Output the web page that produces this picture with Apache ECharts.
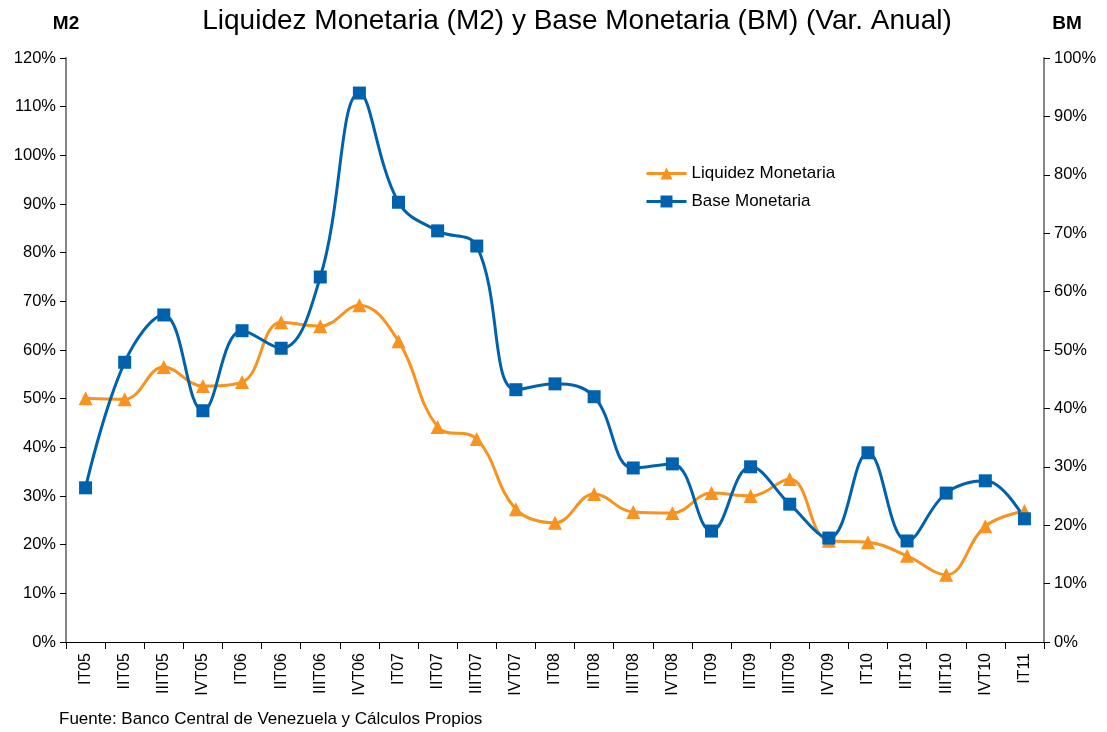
<!DOCTYPE html>
<html>
<head>
<meta charset="utf-8">
<script src="https://cdn.jsdelivr.net/npm/echarts@6/dist/echarts.min.js"></script>
<style>
  html, body { margin: 0; padding: 0; background: #fff; }
  #chart { width: 1107px; height: 732px; }
</style>
</head>
<body>
<div id="chart"></div>
<script>
// trimestres
var categories = ["IT05", "IIT05", "IIIT05", "IVT05", "IT06", "IIT06", "IIIT06", "IVT06",
  "IT07", "IIT07", "IIIT07", "IVT07", "IT08", "IIT08", "IIIT08", "IVT08",
  "IT09", "IIT09", "IIIT09", "IVT09", "IT10", "IIT10", "IIIT10", "IVT10", "IT11"];

// Liquidez Monetaria (M2), eje izquierdo
var m2 = [50.1, 49.9, 56.5, 52.6, 53.4, 65.7, 64.9, 69.2,
  61.8, 44.2, 41.7, 27.3, 24.5, 30.4, 26.7, 26.5,
  30.6, 30.0, 33.5, 20.8, 20.5, 17.7, 13.8, 23.8, 26.9];

// Base Monetaria (BM), eje derecho
var bm = [26.4, 47.9, 56.0, 39.6, 53.3, 50.3, 62.5, 94.0,
  75.3, 70.4, 67.8, 43.2, 44.2, 42.0, 29.8, 30.5,
  19.0, 30.0, 23.6, 17.8, 32.4, 17.3, 25.5, 27.6, 21.1];

var myChart = echarts.init(document.getElementById("chart"));
var axisColor = "#868686";
var font = "Liberation Sans, Arial, sans-serif";

var option = {
  animation: false,
  textStyle: { fontFamily: font },
  title: [
    {
      text: "Liquidez Monetaria (M2) y Base Monetaria (BM) (Var. Anual)",
      left: 572, top: 2, textAlign: "center",
      textStyle: { fontSize: 28, fontWeight: "normal", color: "#000", fontFamily: font }
    },
    {
      text: "M2", left: 61, top: 9, textAlign: "center",
      textStyle: { fontSize: 19, fontWeight: "bold", color: "#000", fontFamily: font }
    },
    {
      text: "BM", left: 1062, top: 9, textAlign: "center",
      textStyle: { fontSize: 19, fontWeight: "bold", color: "#000", fontFamily: font }
    },
    {
      text: "Fuente: Banco Central de Venezuela y Cálculos Propios",
      left: 54, top: 706,
      textStyle: { fontSize: 17, fontWeight: "normal", color: "#000", fontFamily: font }
    }
  ],
  legend: {
    orient: "vertical",
    left: 640, top: 160,
    itemGap: 11,
    itemWidth: 40, itemHeight: 15,
    lineStyle: { width: 3 },
    textStyle: { fontSize: 17, color: "#000", fontFamily: font },
    data: ["Liquidez Monetaria", "Base Monetaria"]
  },
  grid: { left: 66, right: 63, top: 58, bottom: 90 },
  xAxis: {
    type: "category",
    data: categories,
    boundaryGap: true,
    axisLine: { lineStyle: { color: "#000", width: 1 } },
    axisTick: { show: true, length: 7, inside: false, lineStyle: { color: "#000" } },
    axisLabel: { rotate: 90, fontSize: 16, color: "#000", margin: 11, fontFamily: font }
  },
  yAxis: [
    {
      type: "value", min: 0, max: 120, interval: 10,
      axisLine: { show: true, lineStyle: { color: axisColor, width: 2 } },
      axisTick: { show: true, length: 6, lineStyle: { color: "#000" } },
      splitLine: { show: false },
      axisLabel: { formatter: "{value}%", fontSize: 16.5, color: "#000", margin: 10, fontFamily: font }
    },
    {
      type: "value", min: 0, max: 100, interval: 10,
      position: "right",
      axisLine: { show: true, lineStyle: { color: axisColor, width: 2 } },
      axisTick: { show: true, length: 6, lineStyle: { color: "#000" } },
      splitLine: { show: false },
      axisLabel: { formatter: "{value}%", fontSize: 16.5, color: "#000", margin: 10, fontFamily: font }
    }
  ],
  series: [
    {
      name: "Liquidez Monetaria",
      type: "line",
      yAxisIndex: 0,
      data: m2,
      smooth: 0.4,
      symbol: "triangle",
      symbolSize: 14,
      lineStyle: { color: "#F7931E", width: 3 },
      itemStyle: { color: "#F7931E" }
    },
    {
      name: "Base Monetaria",
      type: "line",
      yAxisIndex: 1,
      data: bm,
      smooth: 0.4,
      symbol: "rect",
      symbolSize: 13,
      lineStyle: { color: "#0062AC", width: 3 },
      itemStyle: { color: "#0062AC" }
    }
  ]
};

myChart.setOption(option);
</script>
</body>
</html>
